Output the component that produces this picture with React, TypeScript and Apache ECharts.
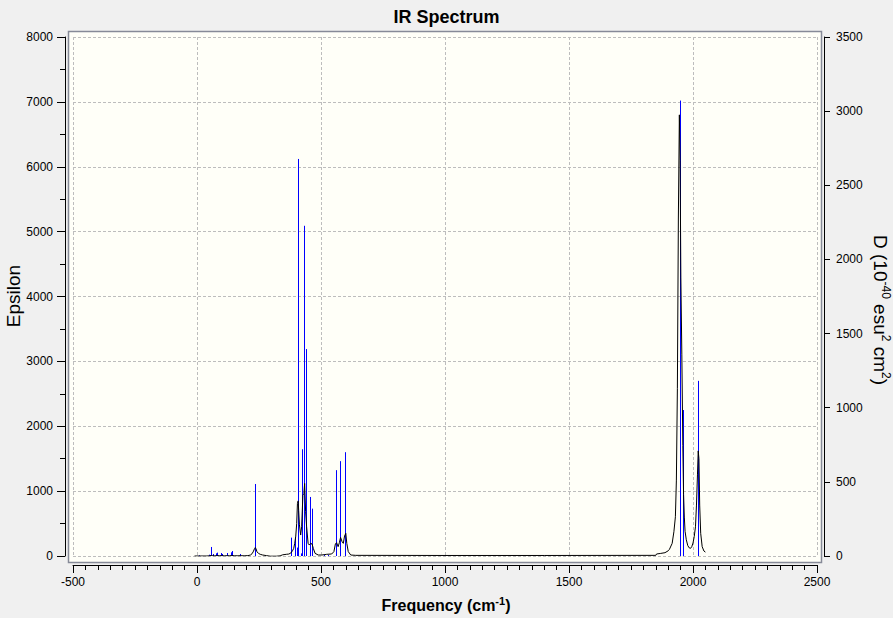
import React, { useEffect, useRef } from "react";
import * as echarts from "echarts";

// ---- Data ----
// Blue sticks: frequency (cm-1) and height (Epsilon units)
const stickFreq = [8, 47, 58, 66, 77, 82, 95, 100, 122, 138, 142, 175, 235, 378, 395, 403, 408, 418, 425, 433, 438, 457, 465, 513, 529, 562, 578, 598, 1946, 1958, 2022];
const stickInt = [10, 20, 139, 31, 41, 52, 46, 31, 46, 57, 77, 31, 1110, 283, 300, 130, 6120, 40, 1645, 5090, 3190, 910, 730, 15, 15, 1323, 1462, 1600, 7020, 2250, 2700];

// Black broadened spectrum: frequency and Epsilon
const curveFreq = [
  -10, 40, 50, 58, 64, 72, 80, 90, 98, 110, 122, 132, 140, 150, 165, 175, 190, 205, 215, 222,
  228, 232, 235, 238, 242, 248, 255, 265, 280, 295, 320, 335, 345, 360, 370, 378, 385, 390, 394, 398,
  402, 405, 408, 410, 413, 418, 422, 427, 431, 434, 438, 442, 448, 453, 458, 464, 469, 476, 489, 503,
  523, 543, 552, 558, 563, 569, 574, 579, 585, 590, 595, 600, 604, 610, 620, 640, 1000, 1400, 1850, 1853,
  1870, 1887, 1900, 1905, 1916, 1923, 1929, 1933, 1937, 1941, 1945, 1948, 1951, 1955, 1959, 1962, 1965, 1968, 1973, 1979,
  1985, 1990, 1995, 2000, 2005, 2010, 2014, 2018, 2021, 2024, 2027, 2031, 2037, 2044, 2050,
];
const curveEps = [
  0, 0, 3, 10, 4, 3, 6, 5, 6, 3, 5, 4, 8, 4, 3, 5, 3, 6, 14, 35,
  75, 115, 130, 110, 65, 40, 26, 15, 6, -3, -3, 2, 18, 26, 30, 45, 80, 118, 195, 300,
  500, 810, 850, 700, 480, 323, 450, 938, 964, 1118, 682, 451, 195, 169, 195, 185, 118, 41, 15, 15,
  26, 31, 67, 185, 205, 144, 205, 287, 220, 195, 308, 349, 195, 67, 15, 10, 8, 8, 10, 31,
  40, 51, 80, 103, 195, 374, 605, 1170, 2585, 5210, 6800, 6100, 4300, 3100, 1700, 950, 600, 380, 250, 160,
  125, 118, 144, 200, 300, 450, 785, 1250, 1620, 1500, 785, 350, 144, 77, 60,
];

// Axis ranges / ticks
const xMin = -500, xMax = 2500, xStep = 500;
const yLeftMin = 0, yLeftMax = 8000, yLeftStep = 1000;
const yRightMin = 0, yRightMax = 3500, yRightStep = 500;

const FONT = "'Liberation Sans', Arial, Helvetica, sans-serif";
const plain = (v: number) => String(v);

export default function App() {
  const ref = useRef<HTMLDivElement>(null);

  useEffect(() => {
    if (!ref.current) return;
    const chart = echarts.init(ref.current, undefined, { renderer: "svg" });

    const sticks = stickFreq.map((f, i) => [f, stickInt[i]]);
    const curve = curveFreq.map((f, i) => [f, curveEps[i]]);

    const gridLeft = 73, gridTop = 37, gridW = 744, gridH = 519;

    const option: any = {
      animation: false,
      backgroundColor: "#F0F0F0",
      title: {
        text: "IR Spectrum",
        left: "center",
        top: 3,
        textStyle: { fontSize: 18, fontWeight: "bold", color: "#000", fontFamily: FONT },
      },
      grid: {
        left: gridLeft,
        top: gridTop,
        width: gridW,
        height: gridH,
        containLabel: false,
        outerBoundsMode: "none",
      },
      graphic: [
        {
          type: "rect",
          z: -10,
          silent: true,
          shape: { x: 68.5, y: 31.5, width: 753, height: 531 },
          style: { fill: "#FFFFF8", stroke: "#868A98", lineWidth: 1.5 },
        },
        {
          type: "text",
          x: 13,
          y: 296,
          rotation: Math.PI / 2,
          style: {
            text: "Epsilon",
            fontSize: 19,
            fontFamily: FONT,
            fill: "#000",
            align: "center",
            verticalAlign: "middle",
          },
        },
        {
          type: "text",
          x: 446,
          y: 605,
          style: {
            text: "{a|Frequency (cm}{s|-1}{a|)}",
            fontFamily: FONT,
            fill: "#000",
            align: "center",
            verticalAlign: "middle",
            rich: {
              a: { fontSize: 16, fontWeight: "bold", fontFamily: FONT, fill: "#000", lineHeight: 20 },
              s: { fontSize: 11, fontWeight: "bold", fontFamily: FONT, fill: "#000", verticalAlign: "top", lineHeight: 12 },
            },
          },
        },
        {
          type: "text",
          x: 880,
          y: 310,
          rotation: -Math.PI / 2,
          style: {
            text: "{a|D (10}{s|-40}{a| esu}{s|2}{a| cm}{s|2}{a|)}",
            fontFamily: FONT,
            fill: "#000",
            align: "center",
            verticalAlign: "middle",
            rich: {
              a: { fontSize: 19, fontFamily: FONT, fill: "#000", lineHeight: 24 },
              s: { fontSize: 12, fontFamily: FONT, fill: "#000", verticalAlign: "top", lineHeight: 14 },
            },
          },
        },
      ],
      xAxis: {
        type: "value",
        min: xMin,
        max: xMax,
        interval: xStep,
        offset: 9,
        axisLine: { show: true, onZero: false, lineStyle: { color: "#000", width: 1 } },
        axisTick: { show: true, length: 8, lineStyle: { color: "#000", width: 1 } },
        minorTick: { show: true, splitNumber: 10, length: 5, lineStyle: { color: "#000", width: 1 } },
        axisLabel: { margin: 11, color: "#000", fontSize: 12, fontFamily: FONT, formatter: plain },
        splitLine: { show: true, lineStyle: { color: "#BDBDBD", width: 1, type: [3, 2] } },
        minorSplitLine: { show: false },
      },
      yAxis: [
        {
          type: "value",
          position: "left",
          min: yLeftMin,
          max: yLeftMax,
          interval: yLeftStep,
          offset: 8,
          axisLine: { show: true, onZero: false, lineStyle: { color: "#000", width: 1 } },
          axisTick: { show: true, length: 8, lineStyle: { color: "#000", width: 1 } },
          minorTick: { show: true, splitNumber: 2, length: 5, lineStyle: { color: "#000", width: 1 } },
          axisLabel: { margin: 12, color: "#000", fontSize: 12, fontFamily: FONT, formatter: plain },
          splitLine: { show: true, lineStyle: { color: "#BDBDBD", width: 1, type: [3, 2] } },
          minorSplitLine: { show: false },
        },
        {
          type: "value",
          position: "right",
          min: yRightMin,
          max: yRightMax,
          interval: yRightStep,
          offset: 7,
          alignTicks: false,
          axisLine: { show: true, onZero: false, lineStyle: { color: "#000", width: 1 } },
          axisTick: { show: true, length: 6, lineStyle: { color: "#000", width: 1 } },
          axisLabel: { margin: 12, color: "#000", fontSize: 12, fontFamily: FONT, formatter: plain },
          splitLine: { show: false },
        },
      ],
      series: [
        {
          type: "custom",
          name: "Sticks",
          xAxisIndex: 0,
          yAxisIndex: 0,
          z: 2,
          data: sticks,
          renderItem: (params: any, api: any) => {
            const f = api.value(0);
            const v = api.value(1);
            const p0 = api.coord([f, 0]);
            const p1 = api.coord([f, v]);
            const x = Math.round(p0[0]) + 0.5;
            return {
              type: "line",
              shape: { x1: x, y1: p0[1], x2: x, y2: p1[1] },
              style: { stroke: "#0000FF", lineWidth: 1 },
            };
          },
        },
        {
          type: "line",
          name: "Epsilon",
          xAxisIndex: 0,
          yAxisIndex: 0,
          z: 3,
          data: curve,
          showSymbol: false,
          symbol: "none",
          lineStyle: { color: "#000", width: 1 },
          itemStyle: { color: "#000" },
        },
      ],
    };

    chart.setOption(option);
    return () => chart.dispose();
  }, []);

  return (
    <div
      ref={ref}
      style={{ position: "absolute", left: 0, top: 0, width: 893, height: 618 }}
    />
  );
}
